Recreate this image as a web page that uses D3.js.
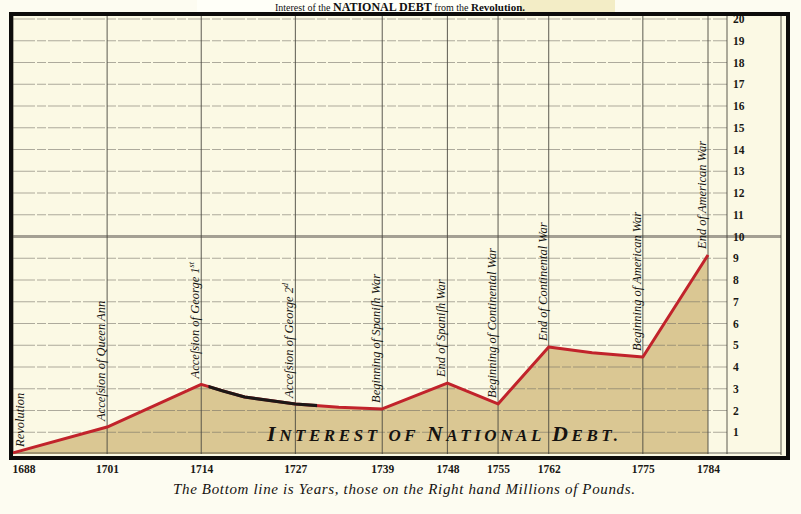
<!DOCTYPE html>
<html>
<head>
<meta charset="utf-8">
<script src="https://cdn.jsdelivr.net/npm/d3@7"></script>
<style>
  html, body { margin: 0; padding: 0; background: #fdfcf1; }
  svg { display: block; }
</style>
</head>
<body>
<svg id="chart" width="801" height="514"></svg>
<script>
// ---- data ----
const years    = [1688, 1701, 1714, 1717, 1720, 1727, 1733, 1739, 1748, 1755, 1762, 1768, 1775, 1784];
const interest = [0.05, 1.24, 3.2, 2.9, 2.62, 2.3, 2.15, 2.07, 3.26, 2.3, 4.92, 4.66, 4.46, 9.15];

const eventYears  = [1688, 1701, 1714, 1727, 1739, 1748, 1755, 1762, 1775, 1784];
const eventLabels = [
  ["Revolution", ""],
  ["Acceſsion of Queen Ann", ""],
  ["Acceſsion of George 1", "st"],
  ["Acceſsion of George 2", "d"],
  ["Beginning of Spaniſh War", ""],
  ["End of Spaniſh War", ""],
  ["Beginning of Continental War", ""],
  ["End of Continental War", ""],
  ["Beginning of American War", ""],
  ["End of American War", ""]
];
const yTicks = [1, 2, 3, 4, 5, 6, 7, 8, 9, 10, 11, 12, 13, 14, 15, 16, 17, 18, 19, 20];

const titleParts = [
  ["Interest of the ", "normal", 10],
  ["NATIONAL DEBT", "bold", 12],
  [" from the ", "normal", 10],
  ["Revolution.", "bold", 11]
];
const areaTitle = [["I", 22], ["NTEREST ", 17], ["OF ", 17], ["N", 22], ["ATIONAL ", 17], ["D", 22], ["EBT.", 17]];
const footnote = "The Bottom line is Years, those on the Right hand Millions of Pounds.";

// ---- layout ----
const svg = d3.select("#chart");
const plotTop = 16, rightAxisX = 727, innerRightX = 781;
const x = d3.scaleLinear().domain([1688, 1784]).range([13, 708]);
const y = d3.scaleLinear().domain([0, 20]).range([454, 19]);
const serif = "'Liberation Serif', 'DejaVu Serif', serif";

// background
svg.append("rect").attr("width", 801).attr("height", 514).attr("fill", "#fdfcf1");
svg.append("rect").attr("x", 11).attr("y", 14).attr("width", 777).attr("height", 444).attr("fill", "#fbf9e4");

// title strip
svg.append("rect").attr("x", 197).attr("y", 0).attr("width", 418).attr("height", 12).attr("fill", "#fffff8");
svg.append("rect").attr("x", 520).attr("y", 0).attr("width", 95).attr("height", 12).attr("fill", "#f3edc6");
const tt = svg.append("text").attr("x", 400).attr("y", 11).attr("text-anchor", "middle")
  .attr("font-family", serif).attr("fill", "#111");
titleParts.forEach(p => tt.append("tspan").text(p[0]).attr("font-weight", p[1]).attr("font-size", p[2]));

// area fill
const valueAt = yr => interest[years.indexOf(yr)];
const pts = years.map((yr, i) => [yr, interest[i]]);
svg.append("path")
  .datum(pts)
  .attr("d", d3.area().x(d => x(d[0])).y0(y(0)).y1(d => y(d[1])))
  .attr("fill", "#dac793");

// horizontal gridlines
svg.append("g").selectAll("line").data(yTicks).join("line")
  .attr("x1", x(1688)).attr("x2", d => d === 10 ? innerRightX : rightAxisX)
  .attr("y1", d => y(d)).attr("y2", d => y(d))
  .attr("stroke", d => d === 10 ? "#9a968a" : "#6f6c62")
  .attr("stroke-width", d => d === 10 ? 3 : 0.8)
  .attr("stroke-opacity", d => d === 10 ? 0.9 : 0.7)
  .attr("stroke-dasharray", d => d === 10 ? null : "22,2,9,2");

// vertical gridlines
svg.append("g").selectAll("line").data(eventYears).join("line")
  .attr("x1", d => x(d)).attr("x2", d => x(d))
  .attr("y1", plotTop).attr("y2", y(0))
  .attr("stroke", "#4a4740").attr("stroke-width", 0.9);

// right axis line and inner frame line
svg.append("line").attr("x1", rightAxisX).attr("x2", rightAxisX).attr("y1", plotTop).attr("y2", y(0))
  .attr("stroke", "#4a4740").attr("stroke-width", 0.9);
svg.append("line").attr("x1", innerRightX).attr("x2", innerRightX).attr("y1", plotTop).attr("y2", y(0) + 1)
  .attr("stroke", "#4a4740").attr("stroke-width", 0.9);
svg.append("line").attr("x1", x(1688)).attr("x2", innerRightX).attr("y1", y(0) - 1).attr("y2", y(0) - 1)
  .attr("stroke", "#4a4740").attr("stroke-width", 0.8);

// line (red, dark stretch after George I)
const lineGen = d3.line().x(d => x(d[0])).y(d => y(d[1]));
svg.append("path").datum(pts).attr("d", lineGen)
  .attr("fill", "none").attr("stroke", "#c1232b").attr("stroke-width", 3).attr("stroke-linejoin", "round");
svg.append("clipPath").attr("id", "darkclip").append("rect")
  .attr("x", x(1715)).attr("y", 0).attr("width", x(1730) - x(1715)).attr("height", 514);
svg.append("path").datum(pts).attr("d", lineGen).attr("clip-path", "url(#darkclip)")
  .attr("fill", "none").attr("stroke", "#1c1716").attr("stroke-width", 3.2).attr("stroke-linejoin", "round");

// event labels (rotated)
const ev = svg.append("g").selectAll("text").data(eventYears).join("text")
  .attr("transform", (d, i) => {
    const bx = i === 0 ? x(d) + 11 : x(d) - 2;
    const by = y(valueAt(d)) - 6;
    return `translate(${bx},${by}) rotate(-90)`;
  })
  .attr("font-family", serif).attr("font-style", "italic").attr("font-size", 12.5)
  .attr("fill", "#151310");
ev.each(function(d, i) {
  const t = d3.select(this);
  t.append("tspan").text(eventLabels[i][0]);
  if (eventLabels[i][1]) t.append("tspan").text(eventLabels[i][1]).attr("font-size", 8).attr("dy", -5);
});

// central caption
const cap = svg.append("text").attr("x", 267).attr("y", 441)
  .attr("font-family", serif).attr("font-style", "italic").attr("font-weight", "bold")
  .attr("fill", "#151310").attr("textLength", 351).attr("lengthAdjust", "spacing");
areaTitle.forEach(p => cap.append("tspan").text(p[0]).attr("font-size", p[1]));

// bottom axis (years)
const xAxis = svg.append("g").attr("transform", `translate(0,${460})`)
  .call(d3.axisBottom(x).tickValues(eventYears).tickSize(0).tickFormat(d3.format("d")).tickPadding(5));
xAxis.select(".domain").remove();
xAxis.selectAll("text").attr("font-family", serif).attr("font-weight", "bold").attr("font-size", 11.5)
  .attr("fill", "#1a1814")
  .attr("text-anchor", (d, i) => i === 0 ? "start" : "middle")
  .attr("dx", (d, i) => i === 0 ? -1 : 0);

// right axis (millions)
const yAxis = svg.append("g").attr("transform", `translate(${rightAxisX},0)`)
  .call(d3.axisRight(y).tickValues(yTicks).tickSize(0).tickPadding(6).tickFormat(d3.format("d")));
yAxis.select(".domain").remove();
yAxis.selectAll("text").attr("font-family", serif).attr("font-weight", "bold").attr("font-size", 11.5)
  .attr("fill", "#1a1814");

// thick frame
svg.append("rect").attr("x", 11).attr("y", 14).attr("width", 777).attr("height", 444)
  .attr("fill", "none").attr("stroke", "#0d0c0b").attr("stroke-width", 4);

// footnote
svg.append("text").attr("x", 173).attr("y", 494).text(footnote)
  .attr("font-family", serif).attr("font-style", "italic").attr("font-size", 15)
  .attr("fill", "#151310").attr("textLength", 462).attr("lengthAdjust", "spacing");
</script>
</body>
</html>
